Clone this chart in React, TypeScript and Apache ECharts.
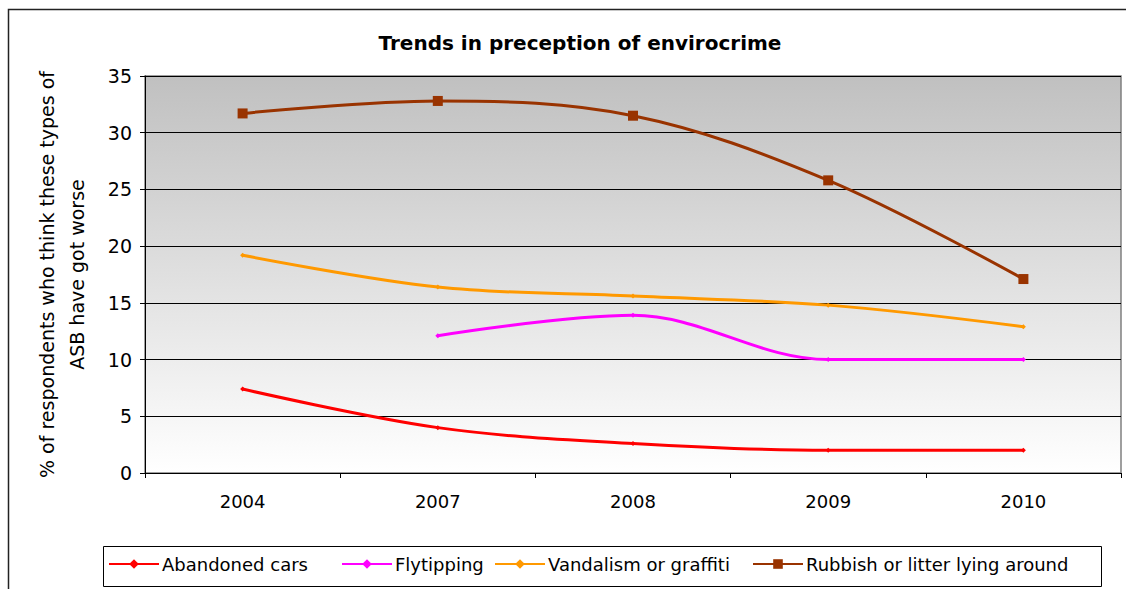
import React, { useEffect, useRef } from "react";
import * as echarts from "echarts";

const years = ["2004", "2007", "2008", "2009", "2010"];
const abandonedCars = [7.4, 4.0, 2.6, 2.0, 2.0];
const flytipping: (number | null)[] = [null, 12.1, 13.9, 10.0, 10.0];
const vandalism = [19.2, 16.4, 15.6, 14.8, 12.9];
const rubbish = [31.7, 32.8, 31.5, 25.8, 17.1];
const seriesNames = [
  "Abandoned cars",
  "Flytipping",
  "Vandalism or graffiti",
  "Rubbish or litter lying around",
];
const seriesColors = ["#FF0000", "#FF00FF", "#FF9900", "#993300"];
const legendLefts = [108, 341, 494, 752];

export default function App() {
  const ref = useRef<HTMLDivElement>(null);
  useEffect(() => {
    document.body.style.margin = "0";
    const chart = echarts.init(ref.current!, undefined, { renderer: "svg" });
    const dataSets = [abandonedCars, flytipping, vandalism, rubbish];
    const font = "DejaVu Sans, sans-serif";
    chart.setOption({
      animation: false,
      textStyle: { fontFamily: font },
      title: {
        text: "Trends in preception of envirocrime",
        left: 575,
        textAlign: "center",
        top: 28,
        textStyle: { fontSize: 20, fontWeight: "bold", color: "#000", fontFamily: font },
      },
      graphic: [
        {
          type: "rect",
          shape: { x: 8.5, y: 9.5, width: 1130, height: 600 },
          style: { fill: "none", stroke: "#222", lineWidth: 1.5 },
          silent: true,
        },
        {
          type: "rect",
          shape: { x: 103.5, y: 546.5, width: 998, height: 40 },
          style: { fill: "#fff", stroke: "#000", lineWidth: 1 },
          silent: true,
          z: 0,
        },
      ],
      legend: seriesNames.map((n, i) => ({
        data: [n],
        left: legendLefts[i],
        top: 555,
        itemWidth: 50,
        itemHeight: 12,
        itemGap: 5,
        padding: 0,
        textStyle: { fontSize: 18, color: "#000", fontFamily: font, padding: [0, 0, 0, -2] },
        z: 5,
      })),
      grid: {
        left: 145,
        right: 5,
        top: 76,
        bottom: 116,
        show: true,
        borderColor: "#808080",
        borderWidth: 1.5,
        backgroundColor: new echarts.graphic.LinearGradient(0, 0, 0, 1, [
          { offset: 0, color: "#c0c0c0" },
          { offset: 1, color: "#ffffff" },
        ]),
      },
      xAxis: {
        type: "category",
        data: years,
        boundaryGap: true,
        axisLine: { lineStyle: { color: "#000", width: 1 } },
        axisTick: { show: true, length: 5, lineStyle: { color: "#000" } },
        axisLabel: { fontSize: 18, color: "#000", margin: 19, fontFamily: font },
      },
      yAxis: {
        type: "value",
        min: 0,
        max: 35,
        interval: 5,
        name: "% of respondents who think these types of\nASB have got worse",
        nameLocation: "middle",
        nameRotate: 90,
        nameGap: 53,
        nameTextStyle: { fontSize: 19, color: "#000", fontFamily: font, lineHeight: 30 },
        axisLine: { show: true, lineStyle: { color: "#000", width: 1 } },
        axisTick: { show: true, length: 5, lineStyle: { color: "#000" } },
        axisLabel: { fontSize: 19, color: "#000", margin: 13, fontFamily: font },
        splitLine: { show: true, lineStyle: { color: "#000", width: 1 } },
      },
      series: seriesNames.map((n, i) => ({
        name: n,
        type: "line",
        data: dataSets[i],
        smooth: 0.35,
        connectNulls: false,
        symbol: i === 3 ? "rect" : "diamond",
        symbolSize: i === 3 ? 10 : 5,
        showSymbol: true,
        lineStyle: { color: seriesColors[i], width: 3 },
        itemStyle: { color: seriesColors[i] },
        z: 3,
      })),
    });
    return () => chart.dispose();
  }, []);
  return <div ref={ref} style={{ width: 1126, height: 589 }} />;
}
